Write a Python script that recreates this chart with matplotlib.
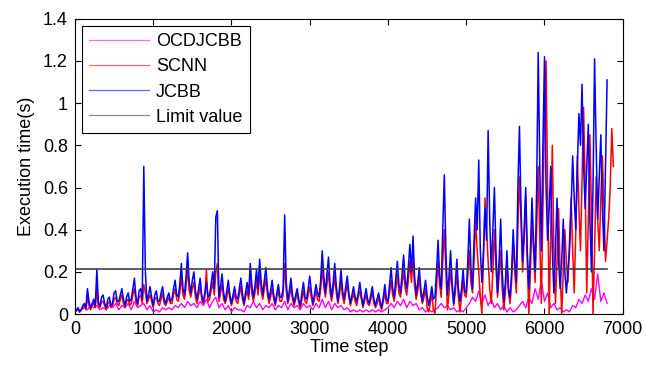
import matplotlib.pyplot as plt
import numpy as np
from matplotlib.ticker import FormatStrFormatter

plt.rcParams['font.family'] = ['Liberation Sans', 'DejaVu Sans']

# values; OCDJCBB every 40 steps, SCNN/JCBB every 20 steps
step_ocd = 40
step = 20

ocdjcbb = [
    0.01, 0.02, 0.02, 0.03, 0.02, 0.04, 0.03, 0.04, 0.02, 0.03, 0.02, 0.04, 0.03, 0.05, 0.02, 0.04, 0.03, 0.05, 0.02, 0.06, 0.03, 0.04, 0.05, 0.02, 0.04,
    0.01, 0.02, 0.01, 0.03, 0.02, 0.03, 0.02, 0.04, 0.03, 0.05, 0.03, 0.06, 0.04, 0.05, 0.03, 0.06, 0.04, 0.07, 0.03, 0.06, 0.08, 0.03, 0.05, 0.02, 0.04,
    0.01, 0.03, 0.02, 0.02, 0.01, 0.04, 0.03, 0.06, 0.03, 0.05, 0.02, 0.04, 0.03, 0.05, 0.02, 0.04, 0.03, 0.06, 0.02, 0.05, 0.03, 0.04, 0.02, 0.05, 0.03,
    0.04, 0.02, 0.05, 0.03, 0.07, 0.03, 0.06, 0.02, 0.05, 0.03, 0.04, 0.02, 0.03, 0.01, 0.02, 0.01, 0.02, 0.01, 0.02, 0.01, 0.02, 0.01, 0.02, 0.01, 0.02,
    0.03, 0.05, 0.03, 0.06, 0.04, 0.07, 0.03, 0.06, 0.04, 0.05, 0.02, 0.03, 0.01, 0.02, 0.01, 0.02, 0.03, 0.05, 0.03, 0.04, 0.02, 0.03, 0.01, 0.02, 0.01,
    0.03, 0.05, 0.08, 0.06, 0.11, 0.05, 0.09, 0.04, 0.07, 0.03, 0.05, 0.02, 0.04, 0.01, 0.03, 0.01, 0.02, 0.04, 0.06, 0.03, 0.08, 0.05, 0.12, 0.07, 0.16,
    0.06, 0.10, 0.03, 0.05, 0.02, 0.03, 0.01, 0.02, 0.01, 0.04, 0.03, 0.07, 0.05, 0.09, 0.06, 0.12, 0.07, 0.19, 0.06, 0.10, 0.05,
]

scnn = [
    # 0-980
    0.01, 0.02, 0.02, 0.01, 0.02, 0.03, 0.04, 0.02, 0.08, 0.04, 0.02, 0.04, 0.05, 0.03, 0.12, 0.04, 0.03, 0.06, 0.06, 0.04, 0.02, 0.05, 0.06, 0.03, 0.04,
    0.07, 0.08, 0.05, 0.04, 0.07, 0.09, 0.05, 0.03, 0.06, 0.07, 0.04, 0.05, 0.09, 0.12, 0.06, 0.04, 0.08, 0.09, 0.05, 0.14, 0.10, 0.05, 0.07, 0.09, 0.06,
    # 1000-1980
    0.03, 0.07, 0.08, 0.05, 0.04, 0.07, 0.10, 0.05, 0.04, 0.06, 0.08, 0.05, 0.05, 0.09, 0.12, 0.07, 0.06, 0.10, 0.18, 0.09, 0.07, 0.13, 0.22, 0.11, 0.08,
    0.12, 0.15, 0.08, 0.05, 0.09, 0.13, 0.07, 0.05, 0.08, 0.21, 0.06, 0.07, 0.11, 0.15, 0.09, 0.20, 0.24, 0.06, 0.10, 0.14, 0.07, 0.05, 0.08, 0.12, 0.07,
    # 2000-2980
    0.04, 0.07, 0.10, 0.06, 0.05, 0.09, 0.13, 0.07, 0.04, 0.08, 0.11, 0.07, 0.18, 0.10, 0.06, 0.10, 0.16, 0.09, 0.20, 0.11, 0.07, 0.12, 0.17, 0.09, 0.05,
    0.08, 0.12, 0.07, 0.04, 0.08, 0.11, 0.06, 0.06, 0.09, 0.24, 0.11, 0.05, 0.08, 0.13, 0.07, 0.04, 0.07, 0.10, 0.05, 0.03, 0.07, 0.11, 0.06, 0.05, 0.09,
    # 3000-3980
    0.13, 0.08, 0.04, 0.07, 0.11, 0.07, 0.06, 0.12, 0.22, 0.13, 0.08, 0.14, 0.20, 0.10, 0.06, 0.11, 0.18, 0.10, 0.05, 0.09, 0.16, 0.08, 0.05, 0.10, 0.14,
    0.08, 0.04, 0.07, 0.10, 0.06, 0.04, 0.08, 0.11, 0.07, 0.03, 0.06, 0.09, 0.05, 0.04, 0.07, 0.10, 0.05, 0.03, 0.05, 0.08, 0.04, 0.02, 0.06, 0.10, 0.05,
    # 4000-4980
    0.05, 0.10, 0.16, 0.09, 0.06, 0.12, 0.19, 0.10, 0.08, 0.14, 0.21, 0.12, 0.09, 0.16, 0.25, 0.15, 0.27, 0.13, 0.07, 0.11, 0.17, 0.09, 0.05, 0.08, 0.12,
    0.03, 0.01, 0.05, 0.10, 0.02, 0.00, 0.12, 0.25, 0.14, 0.08, 0.25, 0.40, 0.20, 0.02, 0.10, 0.22, 0.12, 0.04, 0.10, 0.20, 0.08, 0.01, 0.08, 0.16, 0.09,
    # 5000-5980
    0.08, 0.18, 0.30, 0.15, 0.10, 0.25, 0.45, 0.30, 0.20, 0.08, 0.00, 0.25, 0.55, 0.40, 0.25, 0.12, 0.05, 0.20, 0.40, 0.22, 0.08, 0.18, 0.30, 0.12, 0.02,
    0.10, 0.25, 0.10, 0.05, 0.15, 0.35, 0.20, 0.10, 0.40, 0.65, 0.45, 0.20, 0.35, 0.55, 0.25, 0.00, 0.20, 0.45, 0.30, 0.15, 0.40, 0.70, 0.35, 0.05, 0.50,
    # 6000-6880
    0.95, 1.20, 0.60, 0.00, 0.40, 0.80, 0.30, 0.05, 0.25, 0.50, 0.20, 0.00, 0.20, 0.40, 0.25, 0.15, 0.35, 0.55, 0.30, 0.10, 0.40, 0.75, 0.50, 0.30, 0.65,
    0.98, 0.60, 0.10, 0.45, 0.85, 0.50, 0.00, 0.30, 0.65, 0.45, 0.30, 0.55, 0.75, 0.50, 0.25, 0.35, 0.45, 0.60, 0.88, 0.70,
]

jcbb = [
    # 0-980
    0.01, 0.02, 0.03, 0.01, 0.02, 0.04, 0.05, 0.03, 0.12, 0.06, 0.03, 0.05, 0.07, 0.04, 0.21, 0.05, 0.04, 0.08, 0.09, 0.05, 0.03, 0.07, 0.08, 0.04, 0.05,
    0.10, 0.11, 0.06, 0.06, 0.09, 0.12, 0.07, 0.04, 0.08, 0.10, 0.06, 0.07, 0.12, 0.17, 0.08, 0.05, 0.11, 0.12, 0.07, 0.70, 0.20, 0.06, 0.09, 0.13, 0.08,
    # 1000-1980
    0.04, 0.09, 0.11, 0.06, 0.06, 0.10, 0.13, 0.07, 0.05, 0.08, 0.10, 0.06, 0.07, 0.12, 0.16, 0.09, 0.08, 0.14, 0.24, 0.12, 0.09, 0.18, 0.29, 0.15, 0.10,
    0.16, 0.20, 0.11, 0.07, 0.12, 0.17, 0.09, 0.06, 0.10, 0.15, 0.08, 0.09, 0.14, 0.20, 0.12, 0.46, 0.49, 0.08, 0.13, 0.19, 0.10, 0.06, 0.11, 0.16, 0.09,
    # 2000-2980
    0.05, 0.09, 0.13, 0.08, 0.07, 0.12, 0.17, 0.10, 0.05, 0.10, 0.15, 0.09, 0.24, 0.14, 0.08, 0.13, 0.21, 0.12, 0.26, 0.15, 0.09, 0.16, 0.22, 0.12, 0.07,
    0.11, 0.16, 0.09, 0.05, 0.10, 0.14, 0.08, 0.08, 0.12, 0.47, 0.15, 0.06, 0.11, 0.17, 0.09, 0.05, 0.09, 0.12, 0.07, 0.04, 0.10, 0.15, 0.08, 0.07, 0.12,
    # 3000-3980
    0.18, 0.11, 0.05, 0.09, 0.14, 0.10, 0.08, 0.16, 0.30, 0.18, 0.10, 0.19, 0.27, 0.14, 0.08, 0.15, 0.24, 0.13, 0.06, 0.12, 0.21, 0.11, 0.07, 0.13, 0.18,
    0.10, 0.05, 0.09, 0.13, 0.08, 0.06, 0.10, 0.15, 0.09, 0.04, 0.08, 0.12, 0.07, 0.05, 0.09, 0.13, 0.07, 0.04, 0.07, 0.10, 0.06, 0.03, 0.08, 0.14, 0.07,
    # 4000-4980
    0.06, 0.14, 0.22, 0.12, 0.08, 0.17, 0.25, 0.14, 0.10, 0.19, 0.28, 0.16, 0.12, 0.22, 0.33, 0.20, 0.37, 0.18, 0.09, 0.15, 0.22, 0.12, 0.06, 0.11, 0.16,
    0.09, 0.04, 0.08, 0.13, 0.07, 0.08, 0.20, 0.35, 0.18, 0.12, 0.40, 0.66, 0.30, 0.09, 0.18, 0.30, 0.15, 0.05, 0.14, 0.26, 0.12, 0.06, 0.12, 0.21, 0.11,
    # 5000-5980
    0.10, 0.25, 0.45, 0.22, 0.12, 0.35, 0.55, 0.40, 0.73, 0.30, 0.15, 0.30, 0.50, 0.35, 0.87, 0.45, 0.20, 0.40, 0.60, 0.30, 0.10, 0.25, 0.45, 0.20, 0.06,
    0.15, 0.30, 0.12, 0.08, 0.20, 0.40, 0.25, 0.15, 0.60, 0.89, 0.50, 0.25, 0.40, 0.60, 0.30, 0.12, 0.30, 0.55, 0.35, 0.20, 0.60, 1.24, 0.70, 0.30, 0.80,
    # 6000-6800
    1.22, 0.60, 0.35, 0.50, 0.70, 0.30, 0.10, 0.30, 0.55, 0.25, 0.12, 0.25, 0.45, 0.20, 0.10, 0.20, 0.30, 0.50, 0.75, 0.55, 0.40, 0.70, 0.95, 0.80, 1.09,
    0.70, 0.50, 0.70, 0.90, 0.45, 0.20, 0.60, 1.21, 0.80, 0.45, 0.65, 0.85, 0.50, 0.30, 0.70, 1.11,
]

limit_value = 0.213
limit_end = 6800

fig, ax = plt.subplots(figsize=(6.46, 3.69), dpi=100)
fig.subplots_adjust(left=0.116, right=0.964, bottom=0.149, top=0.949)

ax.plot(np.arange(len(ocdjcbb)) * step_ocd, ocdjcbb, '-', color='#ff00ff', lw=1.0, label='OCDJCBB')
ax.plot(np.arange(len(scnn)) * step, scnn, '-', color='#ff0000', lw=1.1, label='SCNN')
ax.plot(np.arange(len(jcbb)) * step, jcbb, '-', color='#0000ff', lw=1.1, label='JCBB')
ax.plot([0, limit_end], [limit_value, limit_value], '-', color='#404040', lw=1.2, label='Limit value')

ax.set_xlim(0, 7000)
ax.set_ylim(0, 1.4)
ax.set_xticks(np.arange(0, 7001, 1000))
ax.set_yticks(np.arange(0, 1.41, 0.2))
ax.yaxis.set_major_formatter(FormatStrFormatter('%g'))
ax.tick_params(direction='in', top=True, right=True, labelsize=13, length=4, pad=5)
ax.set_xlabel('Time step', fontsize=13, labelpad=1)
ax.set_ylabel('Execution time(s)', fontsize=13, labelpad=6)

leg = ax.legend(loc='upper left', fontsize=13, handlelength=3.3, handletextpad=0.4,
                fancybox=False, edgecolor='black', framealpha=1,
                borderaxespad=0.4, borderpad=0.4, labelspacing=0.45)
leg.get_frame().set_linewidth(0.8)
for line in leg.get_lines():
    line.set_alpha(0.6)
    line.set_linewidth(0.9)

fig.savefig('out.png')
